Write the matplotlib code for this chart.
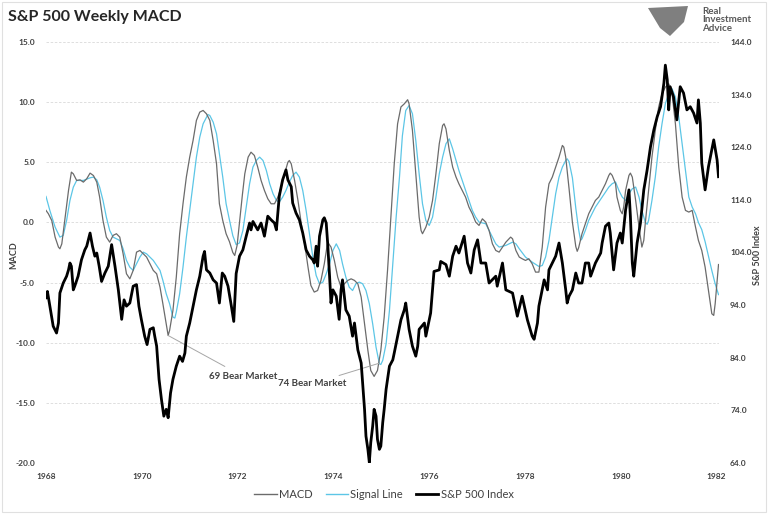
"""
S&P 500 weekly MACD chart (1968-1982) with the index on a second axis.
"""

import matplotlib
matplotlib.use('Agg')
import matplotlib.pyplot as plt
from matplotlib.lines import Line2D
from matplotlib.patches import Polygon, Rectangle

plt.rcParams['font.family'] = ['Lato', 'DejaVu Sans']

# --- data (decimal years) ---
spx_year = [
    1968.0, 1968.03, 1968.08, 1968.15, 1968.22, 1968.26, 1968.29, 1968.36, 1968.43, 1968.47,
    1968.5, 1968.53, 1968.57, 1968.6, 1968.67, 1968.74, 1968.81, 1968.85, 1968.92, 1968.97,
    1969.02, 1969.06, 1969.11, 1969.16, 1969.23, 1969.3, 1969.37, 1969.44, 1969.51, 1969.58,
    1969.63, 1969.68, 1969.75, 1969.82, 1969.89, 1969.94, 1969.99, 1970.06, 1970.11, 1970.17,
    1970.24, 1970.27, 1970.31, 1970.36, 1970.41, 1970.46, 1970.51, 1970.55, 1970.6, 1970.65,
    1970.72, 1970.79, 1970.85, 1970.9, 1970.93, 1971.0, 1971.07, 1971.14, 1971.21, 1971.28,
    1971.31, 1971.35, 1971.42, 1971.49, 1971.56, 1971.62, 1971.68, 1971.73, 1971.8, 1971.87,
    1971.92, 1971.97, 1972.04, 1972.11, 1972.18, 1972.25, 1972.28, 1972.32, 1972.42, 1972.49,
    1972.56, 1972.63, 1972.7, 1972.77, 1972.81, 1972.87, 1972.94, 1973.01, 1973.05, 1973.12,
    1973.15, 1973.22, 1973.29, 1973.36, 1973.43, 1973.5, 1973.57, 1973.6, 1973.64, 1973.67,
    1973.71, 1973.78, 1973.81, 1973.85, 1973.88, 1973.92, 1973.95, 1973.99, 1974.06, 1974.12,
    1974.16, 1974.19, 1974.26, 1974.33, 1974.4, 1974.44, 1974.51, 1974.58, 1974.61, 1974.65,
    1974.68, 1974.72, 1974.75, 1974.78, 1974.82, 1974.85, 1974.89, 1974.92, 1974.96, 1974.99,
    1975.03, 1975.06, 1975.1, 1975.17, 1975.24, 1975.27, 1975.34, 1975.41, 1975.48, 1975.51,
    1975.58, 1975.65, 1975.72, 1975.76, 1975.79, 1975.9, 1975.93, 1976.03, 1976.07, 1976.1,
    1976.21, 1976.24, 1976.35, 1976.42, 1976.49, 1976.56, 1976.62, 1976.73, 1976.8, 1976.87,
    1976.94, 1977.01, 1977.08, 1977.18, 1977.25, 1977.39, 1977.42, 1977.53, 1977.6, 1977.74,
    1977.84, 1977.94, 1978.05, 1978.15, 1978.19, 1978.26, 1978.29, 1978.4, 1978.47, 1978.5,
    1978.64, 1978.71, 1978.78, 1978.85, 1978.88, 1978.92, 1978.99, 1979.06, 1979.12, 1979.19,
    1979.26, 1979.33, 1979.37, 1979.47, 1979.58, 1979.61, 1979.68, 1979.75, 1979.78, 1979.85,
    1979.92, 1979.99, 1980.03, 1980.1, 1980.17, 1980.2, 1980.24, 1980.27, 1980.34, 1980.41,
    1980.48, 1980.55, 1980.62, 1980.69, 1980.76, 1980.83, 1980.9, 1980.93, 1980.97, 1981.0,
    1981.03, 1981.1, 1981.17, 1981.24, 1981.31, 1981.38, 1981.45, 1981.52, 1981.59, 1981.62,
    1981.66, 1981.69, 1981.76, 1981.83, 1981.94, 1982.01, 1982.04,
]
spx_value = [
    95.4, 96.6, 93.8, 90.0, 88.7, 90.6, 96.3, 98.2, 99.5, 100.7,
    102.0, 101.4, 96.9, 97.6, 99.5, 102.6, 104.5, 105.2, 107.7, 105.2,
    103.3, 103.9, 101.4, 98.5, 100.1, 101.4, 105.5, 101.4, 96.9, 91.3,
    95.0, 93.8, 94.4, 97.6, 97.9, 93.8, 91.3, 88.1, 86.5, 89.4,
    89.7, 88.1, 86.2, 79.9, 76.1, 72.9, 74.2, 72.6, 77.3, 79.9,
    82.4, 84.3, 83.3, 84.9, 88.1, 90.6, 93.8, 96.9, 99.5, 103.3,
    104.2, 100.7, 100.1, 98.8, 98.2, 94.4, 100.1, 99.5, 97.6, 93.8,
    90.9, 100.0, 103.3, 104.5, 107.1, 109.6, 108.3, 109.9, 108.3, 109.6,
    107.1, 110.9, 110.2, 109.6, 108.3, 114.7, 117.8, 119.7, 117.8, 116.5,
    113.4, 111.5, 110.2, 107.7, 104.5, 103.3, 102.6, 102.0, 105.2, 101.4,
    107.1, 110.2, 110.6, 109.6, 105.8, 99.5, 94.4, 96.9, 95.7, 91.3,
    96.9, 98.8, 93.1, 91.9, 88.1, 90.6, 85.5, 83.0, 79.2, 74.2,
    69.1, 66.6, 64.1, 67.9, 71.0, 74.2, 72.9, 68.5, 66.6, 67.2,
    71.7, 74.2, 78.0, 82.4, 83.6, 84.9, 88.1, 91.2, 93.1, 94.4,
    89.4, 86.2, 84.3, 86.2, 89.4, 90.6, 88.1, 92.5, 96.9, 100.4,
    100.7, 102.3, 101.7, 99.5, 103.3, 105.2, 103.9, 107.1, 102.0, 100.1,
    104.5, 106.4, 102.0, 102.0, 98.2, 99.5, 97.6, 102.0, 96.9, 96.3,
    91.9, 95.7, 91.2, 88.1, 87.5, 90.6, 93.8, 98.8, 96.9, 100.7,
    103.3, 105.8, 102.0, 96.9, 94.4, 95.7, 96.9, 100.1, 98.2, 98.2,
    102.0, 102.0, 99.5, 102.0, 103.9, 105.8, 109.0, 109.6, 107.7, 100.7,
    105.8, 107.7, 105.8, 112.1, 115.9, 110.9, 102.0, 99.5, 105.8, 109.6,
    115.9, 119.7, 124.1, 127.3, 129.8, 131.7, 136.2, 139.6, 136.8, 131.1,
    135.5, 133.6, 129.2, 135.5, 134.3, 131.1, 131.7, 130.5, 128.6, 133.0,
    128.6, 121.0, 115.9, 120.3, 125.4, 121.6, 118.4,
]

macd_year = [
    1968.0, 1968.05, 1968.12, 1968.19, 1968.26, 1968.29, 1968.33, 1968.4, 1968.47, 1968.53,
    1968.57, 1968.64, 1968.71, 1968.78, 1968.85, 1968.92, 1968.99, 1969.06, 1969.12, 1969.19,
    1969.26, 1969.33, 1969.4, 1969.47, 1969.54, 1969.61, 1969.68, 1969.75, 1969.82, 1969.89,
    1969.96, 1970.03, 1970.1, 1970.17, 1970.24, 1970.31, 1970.38, 1970.44, 1970.51, 1970.55,
    1970.58, 1970.65, 1970.72, 1970.79, 1970.86, 1970.93, 1971.0, 1971.07, 1971.14, 1971.21,
    1971.28, 1971.35, 1971.42, 1971.49, 1971.56, 1971.62, 1971.69, 1971.76, 1971.83, 1971.9,
    1971.94, 1971.99, 1972.04, 1972.1, 1972.15, 1972.22, 1972.28, 1972.35, 1972.42, 1972.49,
    1972.56, 1972.63, 1972.7, 1972.77, 1972.84, 1972.91, 1972.98, 1973.05, 1973.08, 1973.12,
    1973.19, 1973.26, 1973.33, 1973.4, 1973.47, 1973.53, 1973.6, 1973.67, 1973.74, 1973.81,
    1973.88, 1973.95, 1974.02, 1974.09, 1974.16, 1974.23, 1974.3, 1974.37, 1974.44, 1974.51,
    1974.58, 1974.65, 1974.72, 1974.78, 1974.85, 1974.92, 1974.99, 1975.06, 1975.13, 1975.2,
    1975.27, 1975.34, 1975.41, 1975.48, 1975.55, 1975.58, 1975.65, 1975.72, 1975.79, 1975.83,
    1975.86, 1975.93, 1976.0, 1976.07, 1976.14, 1976.21, 1976.28, 1976.31, 1976.35, 1976.42,
    1976.49, 1976.56, 1976.62, 1976.69, 1976.76, 1976.83, 1976.9, 1976.97, 1977.04, 1977.11,
    1977.18, 1977.25, 1977.32, 1977.39, 1977.46, 1977.53, 1977.6, 1977.7, 1977.74, 1977.81,
    1977.88, 1977.94, 1978.01, 1978.08, 1978.15, 1978.22, 1978.29, 1978.36, 1978.43, 1978.5,
    1978.57, 1978.64, 1978.71, 1978.78, 1978.81, 1978.85, 1978.92, 1978.99, 1979.06, 1979.09,
    1979.12, 1979.19, 1979.26, 1979.33, 1979.4, 1979.47, 1979.54, 1979.61, 1979.68, 1979.75,
    1979.78, 1979.82, 1979.89, 1979.92, 1979.99, 1980.03, 1980.06, 1980.1, 1980.17, 1980.2,
    1980.24, 1980.31, 1980.38, 1980.44, 1980.48, 1980.51, 1980.58, 1980.65, 1980.72, 1980.79,
    1980.86, 1980.93, 1981.0, 1981.03, 1981.07, 1981.14, 1981.21, 1981.28, 1981.35, 1981.42,
    1981.49, 1981.56, 1981.62, 1981.69, 1981.76, 1981.83, 1981.9, 1981.94, 1981.97, 1982.04,
]
macd_value = [
    1.0, 0.72, 0.16, -1.22, -2.05, -2.19, -1.78, 0.44, 2.66, 4.18,
    4.04, 3.49, 3.54, 3.35, 3.63, 4.10, 3.90, 3.35, 2.10, 0.16,
    -1.22, -1.64, -1.08, -0.94, -1.22, -2.61, -4.27, -4.69, -3.99, -2.47,
    -2.33, -2.61, -2.88, -3.44, -3.99, -4.27, -5.38, -6.76, -8.43, -9.4,
    -8.98, -7.32, -4.55, -0.94, 1.55, 3.77, 5.43, 6.81, 8.48, 9.17,
    9.31, 9.03, 8.48, 6.81, 4.87, 1.55, 0.16, -0.94, -1.6, -2.5,
    -2.75, -1.9, 0.0, 2.3, 4.04, 5.43, 5.84, 5.57, 4.6, 3.49,
    2.66, 1.97, 1.55, 1.55, 2.1, 2.93, 4.04, 5.01, 5.15, 4.87,
    3.49, 1.83, -0.11, -1.78, -3.72, -5.24, -5.79, -5.66, -4.82, -3.44,
    -1.64, -2.05, -3.16, -4.55, -5.38, -5.1, -4.82, -4.69, -4.82, -5.1,
    -6.21, -8.43, -10.64, -12.31, -12.8, -12.31, -10.64, -7.87, -3.99, 0.44,
    4.87, 8.2, 9.6, 9.86, 10.2, 9.86, 7.65, 4.04, 0.44, -0.67,
    -0.94, -0.39, 0.44, 1.83, 4.04, 6.54, 8.06, 8.2, 7.78, 5.98,
    4.6, 3.77, 3.21, 2.66, 2.1, 1.27, 0.72, 0.03, -0.25, 0.3,
    0.03, -0.67, -1.78, -2.33, -2.47, -2.05, -1.64, -1.22, -1.36, -2.33,
    -2.88, -3.02, -3.16, -3.02, -3.44, -4.13, -4.13, -2.05, 1.27, 3.21,
    3.77, 4.6, 5.43, 6.4, 6.26, 5.43, 2.8, 0.0, -2.0, -2.4,
    -2.1, -0.94, -0.11, 0.72, 1.28, 1.83, 2.11, 2.66, 3.22, 3.91,
    4.1, 3.91, 3.22, 2.11, 1.0, 0.72, 1.28, 2.66, 3.91, 4.1,
    3.77, 1.83, -0.39, -2.05, -1.49, -0.11, 2.66, 5.43, 7.65, 9.59,
    10.7, 11.25, 11.53, 11.25, 10.7, 8.2, 4.6, 2.11, 1.0, 0.86,
    1.0, -0.39, -1.49, -2.33, -3.71, -5.65, -7.59, -7.73, -6.76, -3.5,
]

signal_year = [
    1968.0, 1968.08, 1968.19, 1968.29, 1968.36, 1968.43, 1968.5, 1968.57, 1968.64, 1968.78,
    1968.92, 1968.99, 1969.06, 1969.12, 1969.19, 1969.26, 1969.33, 1969.4, 1969.54, 1969.61,
    1969.68, 1969.75, 1969.82, 1969.89, 1969.96, 1970.03, 1970.1, 1970.24, 1970.38, 1970.44,
    1970.51, 1970.58, 1970.65, 1970.69, 1970.72, 1970.79, 1970.86, 1970.93, 1971.0, 1971.07,
    1971.14, 1971.21, 1971.28, 1971.35, 1971.38, 1971.42, 1971.49, 1971.56, 1971.62, 1971.69,
    1971.76, 1971.83, 1971.9, 1971.97, 1972.04, 1972.11, 1972.18, 1972.25, 1972.32, 1972.39,
    1972.46, 1972.53, 1972.6, 1972.67, 1972.74, 1972.81, 1972.87, 1972.94, 1973.01, 1973.08,
    1973.15, 1973.22, 1973.29, 1973.36, 1973.43, 1973.5, 1973.57, 1973.64, 1973.71, 1973.78,
    1973.85, 1973.92, 1973.99, 1974.06, 1974.13, 1974.19, 1974.26, 1974.33, 1974.4, 1974.47,
    1974.54, 1974.61, 1974.68, 1974.75, 1974.82, 1974.89, 1974.96, 1974.99, 1975.03, 1975.1,
    1975.17, 1975.24, 1975.31, 1975.38, 1975.44, 1975.51, 1975.58, 1975.65, 1975.72, 1975.79,
    1975.86, 1975.93, 1976.0, 1976.07, 1976.14, 1976.21, 1976.28, 1976.35, 1976.42, 1976.49,
    1976.56, 1976.62, 1976.69, 1976.76, 1976.83, 1976.9, 1976.97, 1977.04, 1977.18, 1977.25,
    1977.32, 1977.39, 1977.46, 1977.6, 1977.74, 1977.81, 1977.88, 1978.01, 1978.15, 1978.29,
    1978.36, 1978.43, 1978.5, 1978.57, 1978.64, 1978.71, 1978.78, 1978.85, 1978.88, 1978.92,
    1978.99, 1979.06, 1979.12, 1979.16, 1979.19, 1979.26, 1979.33, 1979.4, 1979.47, 1979.54,
    1979.61, 1979.68, 1979.75, 1979.82, 1979.89, 1979.96, 1980.03, 1980.1, 1980.17, 1980.24,
    1980.31, 1980.38, 1980.44, 1980.51, 1980.55, 1980.58, 1980.65, 1980.72, 1980.79, 1980.86,
    1980.93, 1981.0, 1981.07, 1981.14, 1981.21, 1981.28, 1981.35, 1981.42, 1981.49, 1981.56,
    1981.62, 1981.69, 1981.76, 1981.83, 1981.9, 1981.97, 1982.04,
]
signal_value = [
    2.16, 1.0, -0.39, -1.22, -1.08, 0.16, 1.83, 2.93, 3.49, 3.49,
    3.71, 3.77, 3.54, 2.93, 1.83, 0.44, -0.67, -1.22, -1.50, -2.19,
    -3.16, -3.72, -3.99, -3.44, -2.88, -2.47, -2.61, -3.16, -3.99, -4.82,
    -5.93, -6.76, -7.87, -7.95, -7.46, -5.93, -3.72, -1.22, 1.0, 3.21,
    5.43, 7.09, 8.2, 8.75, 8.97, 8.89, 8.34, 7.37, 5.71, 3.77,
    1.55, 0.2, -1.1, -1.85, -1.7, -0.67, 1.27, 3.21, 4.6, 5.15,
    5.43, 5.15, 4.32, 3.21, 2.38, 1.83, 1.69, 2.1, 2.66, 3.35,
    3.9, 4.18, 3.77, 2.66, 1.0, -0.94, -2.88, -4.41, -5.1, -4.96,
    -4.27, -3.44, -2.33, -1.78, -2.33, -3.44, -4.55, -5.38, -5.66, -5.1,
    -4.96, -5.1, -5.66, -6.76, -8.43, -10.37, -11.75, -11.81, -11.47, -10.09,
    -7.32, -3.44, 0.44, 3.8, 7.2, 9.3, 9.72, 9.03, 6.81, 4.04,
    1.55, 0.16, -0.25, 0.44, 2.1, 4.04, 5.43, 6.54, 6.95, 6.12,
    5.15, 4.32, 3.49, 2.66, 1.83, 1.0, 0.44, 0.03, -0.11, -0.67,
    -1.22, -1.78, -2.05, -1.91, -1.64, -1.78, -2.19, -2.88, -3.3, -3.66,
    -3.58, -2.88, -1.5, 0.44, 2.38, 3.77, 4.6, 5.15, 5.29, 5.05,
    3.7, 1.2, -0.6, -1.49, -1.36, -0.66, 0.17, 0.72, 1.28, 1.69,
    2.11, 2.52, 2.94, 3.22, 3.36, 2.66, 2.11, 1.83, 2.39, 2.8,
    2.94, 2.11, 1.0, 0.03, -0.16, 0.17, 1.83, 3.77, 6.26, 8.2,
    9.87, 10.7, 11.11, 10.42, 8.76, 6.54, 4.33, 2.11, 1.28, 0.72,
    0.0, -0.6, -1.6, -2.8, -4.0, -5.1, -6.0,
]

year_ticks = [1968, 1970, 1972, 1974, 1976, 1978, 1980, 1982]
macd_ticks = [15, 10, 5, 0, -5, -10, -15, -20]
spx_ticks = [144, 134, 124, 114, 104, 94, 84, 74, 64]

MACD_COLOR = '#6b6b6b'
SIGNAL_COLOR = '#5cc6e6'
SPX_COLOR = '#000000'
TEXT_COLOR = '#404040'

fig = plt.figure(figsize=(7.68, 5.14), dpi=100)
ax = fig.add_axes([46 / 768, 1 - 463 / 514, (719 - 46) / 768, (463 - 42) / 514])
ax2 = ax.twinx()

# left axis: MACD and signal
for y in macd_ticks:
    ax.axhline(y, color='#d9d9d9', lw=0.6, ls=(0, (3, 2)), zorder=0)
ax.plot(macd_year, macd_value, color=MACD_COLOR, lw=0.9, zorder=3)
ax.plot(signal_year, signal_value, color=SIGNAL_COLOR, lw=0.9, zorder=2)
ax.set_ylim(-20, 15)
ax.set_xlim(1968, 1982.05)
ax.set_yticks(macd_ticks)
ax.set_yticklabels([f'{v:.1f}' for v in macd_ticks])
ax.set_xticks(year_ticks)
ax.set_xticklabels([str(y) for y in year_ticks])

# right axis: S&P 500 index
ax2.plot(spx_year, spx_value, color=SPX_COLOR, lw=2.0, zorder=4)
ax2.set_ylim(64, 144)
ax2.set_yticks(spx_ticks)
ax2.set_yticklabels([f'{v:.1f}' for v in spx_ticks])

for a in (ax, ax2):
    for s in a.spines.values():
        s.set_visible(False)
    a.tick_params(length=0, labelsize=6, labelcolor=TEXT_COLOR, pad=8)
    for lab in a.get_xticklabels() + a.get_yticklabels():
        lab.set_fontweight('bold')
ax.tick_params(axis='x', pad=7)

# axis titles
fig.text(14 / 768, 1 - 255 / 514, 'MACD', rotation=90, fontsize=6.5, fontweight='bold',
         color=TEXT_COLOR, ha='center', va='center')
fig.text(757 / 768, 1 - 255 / 514, 'S&P 500 Index', rotation=90, fontsize=6.5,
         fontweight='bold', color=TEXT_COLOR, ha='center', va='center')

# annotations
ax.annotate('69 Bear Market', xy=(1970.55, -9.4), xytext=(1971.4, -12.8),
            fontsize=7, fontweight='bold', color=TEXT_COLOR, ha='left', va='center',
            arrowprops=dict(arrowstyle='-', color='#a6a6a6', lw=0.7,
                            shrinkA=4, shrinkB=0), zorder=6)
ax.annotate('74 Bear Market', xy=(1974.96, -11.7), xytext=(1974.28, -13.4),
            fontsize=7, fontweight='bold', color=TEXT_COLOR, ha='right', va='center',
            arrowprops=dict(arrowstyle='-', color='#a6a6a6', lw=0.7,
                            shrinkA=2, shrinkB=0), zorder=6)

# title
fig.text(8 / 768, 1 - 17 / 514, 'S&P 500 Weekly MACD', fontsize=11.5, fontweight='bold',
         color='#262626', ha='left', va='center')

# logo
fig.add_artist(Polygon([(648 / 768, 1 - 8 / 514), (688 / 768, 1 - 6 / 514),
                        (684 / 768, 1 - 22 / 514), (670 / 768, 1 - 36 / 514),
                        (660 / 768, 1 - 28 / 514)],
                       closed=True, facecolor='#7f7f7f', edgecolor='none',
                       transform=fig.transFigure))
fig.text(702 / 768, 1 - 20 / 514, 'Real\nInvestment\nAdvice', fontsize=7, fontweight='bold',
         color='#595959', ha='left', va='center', linespacing=0.95)

# legend
handles = [
    Line2D([], [], color=MACD_COLOR, lw=1.0),
    Line2D([], [], color=SIGNAL_COLOR, lw=1.0),
    Line2D([], [], color=SPX_COLOR, lw=2.0),
]
fig.legend(handles, ['MACD', 'Signal Line', 'S&P 500 Index'], loc='center',
           bbox_to_anchor=(0.5, 1 - 494 / 514), ncol=3, frameon=False,
           fontsize=8, handlelength=2.0, handletextpad=0.2, columnspacing=1.2,
           labelcolor=TEXT_COLOR)

# chart border
fig.add_artist(Rectangle((0.003, 0.003), 0.994, 0.994, fill=False, edgecolor='#e0e0e0',
                         lw=0.8, transform=fig.transFigure))

fig.savefig('out.png', dpi=100)
